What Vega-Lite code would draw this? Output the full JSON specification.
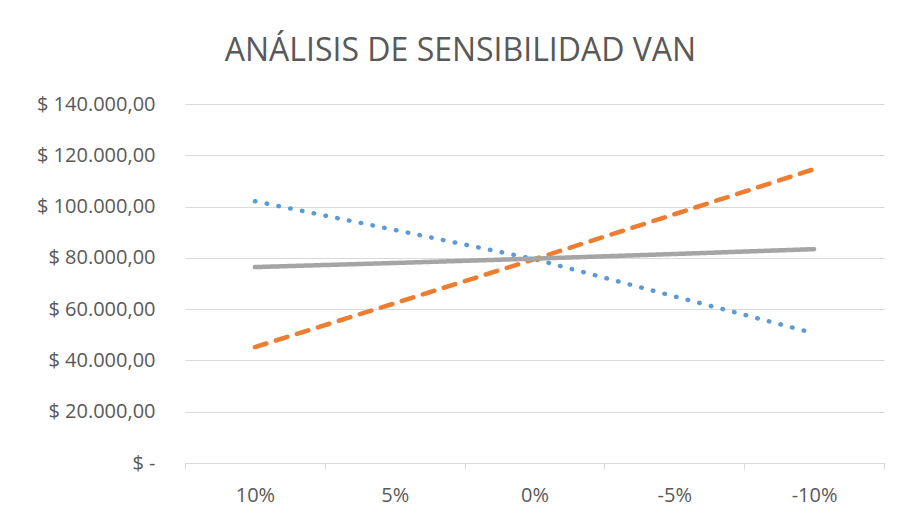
{
  "$schema": "https://vega.github.io/schema/vega-lite/v6.json",
  "width": 699,
  "height": 359,
  "autosize": {"type": "none"},
  "padding": {"left": 185, "top": 104, "right": 29, "bottom": 61},
  "background": "white",
  "title": {
    "text": "ANÁLISIS DE SENSIBILIDAD VAN",
    "font": "Open Sans",
    "fontSize": 32,
    "fontWeight": "normal",
    "color": "#595959",
    "anchor": "middle",
    "frame": "bounds",
    "offset": 26
  },
  "data": {
    "values": [
      {"variacion": "10%", "serie": "A", "van": 102100},
      {"variacion": "5%", "serie": "A", "van": 90900},
      {"variacion": "0%", "serie": "A", "van": 79500},
      {"variacion": "-5%", "serie": "A", "van": 65000},
      {"variacion": "-10%", "serie": "A", "van": 50600},
      {"variacion": "10%", "serie": "B", "van": 45200},
      {"variacion": "5%", "serie": "B", "van": 62300},
      {"variacion": "0%", "serie": "B", "van": 79500},
      {"variacion": "-5%", "serie": "B", "van": 97000},
      {"variacion": "-10%", "serie": "B", "van": 114600},
      {"variacion": "10%", "serie": "C", "van": 76400},
      {"variacion": "5%", "serie": "C", "van": 78000},
      {"variacion": "0%", "serie": "C", "van": 79700},
      {"variacion": "-5%", "serie": "C", "van": 81500},
      {"variacion": "-10%", "serie": "C", "van": 83400}
    ]
  },
  "mark": {"type": "line", "strokeWidth": 4.5, "strokeCap": "round"},
  "encoding": {
    "x": {
      "field": "variacion",
      "type": "ordinal",
      "sort": ["10%", "5%", "0%", "-5%", "-10%"],
      "scale": {"type": "band", "paddingInner": 0, "paddingOuter": 0},
      "axis": {
        "title": null,
        "labelAngle": 0,
        "labelFont": "Open Sans",
        "labelFontSize": 20,
        "labelColor": "#595959",
        "labelPadding": 16,
        "tickBand": "extent",
        "tickSize": 6,
        "tickColor": "#d9d9d9",
        "domainColor": "#d9d9d9",
        "domainWidth": 1,
        "grid": false
      }
    },
    "y": {
      "field": "van",
      "type": "quantitative",
      "scale": {"domain": [0, 140000], "nice": false},
      "axis": {
        "title": null,
        "values": [0, 20000, 40000, 60000, 80000, 100000, 120000, 140000],
        "labelExpr": "datum.value == 0 ? '$ -' : '$ ' + format(datum.value / 1000, 'd') + '.000,00'",
        "labelFont": "Open Sans",
        "labelFontSize": 20,
        "labelColor": "#595959",
        "labelPadding": 30,
        "ticks": false,
        "domain": false,
        "grid": true,
        "gridColor": "#d9d9d9",
        "gridWidth": 1
      }
    },
    "color": {
      "field": "serie",
      "type": "nominal",
      "scale": {"domain": ["A", "B", "C"], "range": ["#5b9bd5", "#ed7d31", "#a5a5a5"]},
      "legend": null
    },
    "strokeDash": {
      "field": "serie",
      "type": "nominal",
      "scale": {"domain": ["A", "B", "C"], "range": [[0.5, 11.5], [12, 10], [1, 0]]},
      "legend": null
    }
  },
  "config": {"view": {"stroke": null}}
}
